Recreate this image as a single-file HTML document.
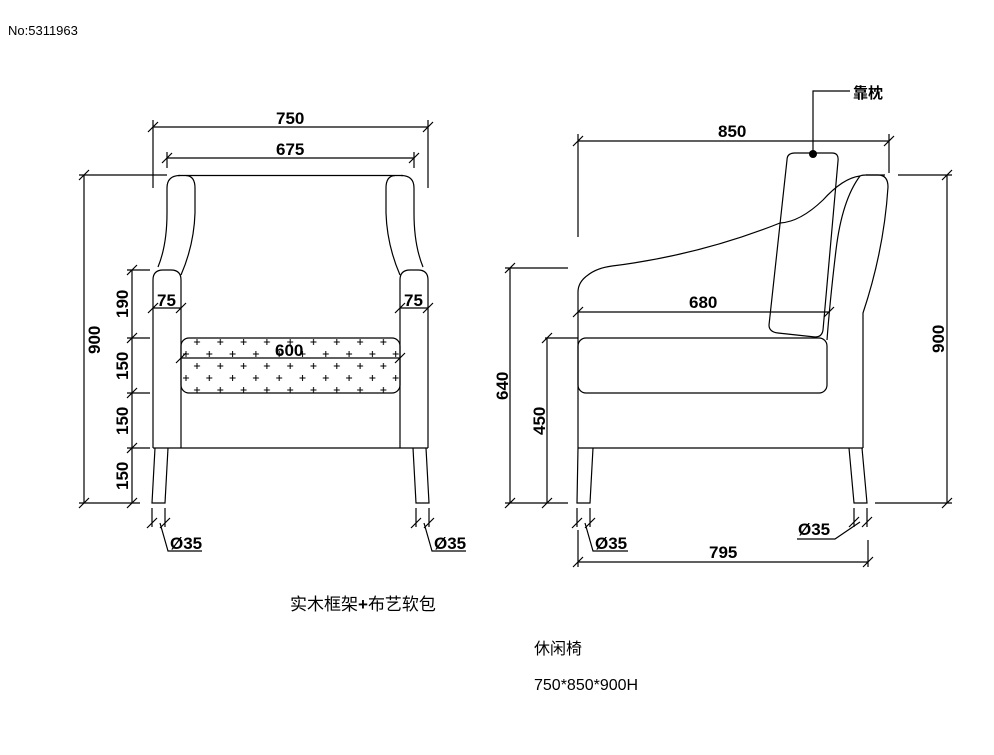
<!DOCTYPE html>
<html><head><meta charset="utf-8"><style>
html,body{margin:0;padding:0;background:#fff;}
svg{display:block;}
.d{font-family:"Liberation Sans",sans-serif;font-weight:bold;font-size:17px;fill:#000;}
.c{font-family:"Liberation Sans","Noto Sans CJK SC",sans-serif;fill:#000;}
</style></head><body>
<svg width="994" height="755" viewBox="0 0 994 755" xmlns="http://www.w3.org/2000/svg">
<defs>
<pattern id="pl" patternUnits="userSpaceOnUse" x="180" y="336" width="46.6" height="24">
<path d="M14 6h6M17 3v6M37.3 6h6M40.3 3v6M3 18h6M6 15v6M26.3 18h6M29.3 15v6" stroke="#000" stroke-width="1" fill="none"/>
</pattern>
<clipPath id="cc"><rect x="181" y="338" width="219" height="55" rx="8"/></clipPath>
</defs>
<text x="8" y="35" class="c" font-size="13">No:5311963</text>
<g fill="none" stroke="#000" stroke-width="1.2">
<path d="M153 127H428M153 120V188M428 120V188M167 158H414M167 152V168M414 152V168"/>
<path d="M148 132l10-10M423 132l10-10M162 163l10-10M409 163l10-10"/>
<path d="M84 175V503M79 175H167M79 503H140"/>
<path d="M79 180l10-10M79 508l10-10"/>
<path d="M132 270V503M127 270H150M127 338H150M127 393H150M127 448H150"/>
<path d="M127 275l10-10M127 343l10-10M127 398l10-10M127 453l10-10M127 508l10-10"/>
<path d="M153 308H181M400 308H428M148 313l10-10M176 313l10-10M395 313l10-10M423 313l10-10"/>
<path d="M181 358H400M176 363l10-10M395 363l10-10"/>
<line x1="178" y1="175.5" x2="403" y2="175.5"/>
<path d="M167 213V188Q167 175.5 180 175.5"/>
<path d="M401 175.5Q414 175.5 414 188V213"/>
<path d="M186 175.5Q195 176 195 188V213Q194 245 181 275"/>
<path d="M167 213Q167 245 158 267"/>
<path d="M395 175.5Q386 176 386 188V213Q387 245 400 275"/>
<path d="M414 213Q414 245 423 267"/>
<path d="M153 448V280Q153 270 163 270H171Q181 270 181 280V448"/>
<path d="M428 448V280Q428 270 418 270H410Q400 270 400 280V448"/>
<path d="M153 448H428"/>
<rect x="181" y="338" width="219" height="55" rx="8"/>
<path d="M155 448L152 503H165L168 448M413 448L416 503H429L426 448"/>
<path d="M152 508V527M165 508V527M147 528l10-10M160 528l10-10M160 523L168 551H202"/>
<path d="M416 508V527M429 508V527M411 528l10-10M424 528l10-10M424 523L432 551H466"/>

<path d="M578 141H889M578 134V237M889 134V173M573 146l10-10M884 146l10-10"/>
<path d="M813 154V91H850"/>
<path d="M787 160Q787 153 795 153H832Q839 153 838 161L823 330Q822 337 815 337L778 333Q769 332 769 325Z"/>
<path d="M885 175H866Q862 175 860 176Q843 178 823 200Q800 222 780 223Q700 255 612 266Q597 268 588 275Q578 282 578 292V448"/>
<path d="M866 175H878Q888 175 888 187Q884 250 863 313V448"/>
<path d="M860 176Q842 200 836 250Q830 300 827 340"/>
<path d="M578 312H829M573 317l10-10M824 317l10-10"/>
<rect x="578" y="338" width="249" height="55" rx="8"/>
<path d="M545 338H578"/>
<path d="M578 448H863"/>
<path d="M578 448L577 503H590L593 448M849 448L854 503H867L862 448"/>
<path d="M510 268V503M505 268H568M505 503H568M505 273l10-10M505 508l10-10"/>
<path d="M547 338V503M542 343l10-10M542 508l10-10"/>
<path d="M947 175V503M898 175H952M875 503H952M942 180l10-10M942 508l10-10"/>
<path d="M577 508V527M590 508V527M572 528l10-10M585 528l10-10M585 523L593 551H628"/>
<path d="M854 508V527M867 508V527M849 527l10-10M862 527l10-10M860 522L835 539H797"/>
<path d="M578 530V567M868 540V567M578 562H868M573 567l10-10M863 567l10-10"/>
</g>
<rect x="181" y="338" width="219" height="55" fill="url(#pl)" clip-path="url(#cc)"/>
<circle cx="813" cy="154" r="4" fill="#000"/>
<g class="d">
<text x="276" y="124">750</text>
<text x="276" y="155">675</text>
<text x="157" y="306">75</text>
<text x="404" y="306">75</text>
<text x="275" y="356">600</text>
<text transform="translate(100 339) rotate(-90)" x="-15" y="0">900</text>
<text transform="translate(128 304) rotate(-90)" x="-14" y="0">190</text>
<text transform="translate(128 366) rotate(-90)" x="-14" y="0">150</text>
<text transform="translate(128 421) rotate(-90)" x="-14" y="0">150</text>
<text transform="translate(128 476) rotate(-90)" x="-14" y="0">150</text>
<text x="170" y="549">Ø35</text>
<text x="434" y="549">Ø35</text>
<text x="718" y="137">850</text>
<text x="689" y="308">680</text>
<text transform="translate(508 386) rotate(-90)" x="-14" y="0">640</text>
<text transform="translate(545 421) rotate(-90)" x="-14" y="0">450</text>
<text transform="translate(944 339) rotate(-90)" x="-14" y="0">900</text>
<text x="595" y="549">Ø35</text>
<text x="798" y="535">Ø35</text>
<text x="709" y="558">795</text>
</g>
<text x="853" y="98" class="c" font-size="15" font-weight="bold">靠枕</text>
<text x="290" y="610" class="c" font-size="17">实木框架<tspan font-weight="bold">+</tspan>布艺软包</text>
<text x="534" y="654" class="c" font-size="16">休闲椅</text>
<text x="534" y="690" class="c" font-size="16">750*850*900H</text>
</svg>
</body></html>
